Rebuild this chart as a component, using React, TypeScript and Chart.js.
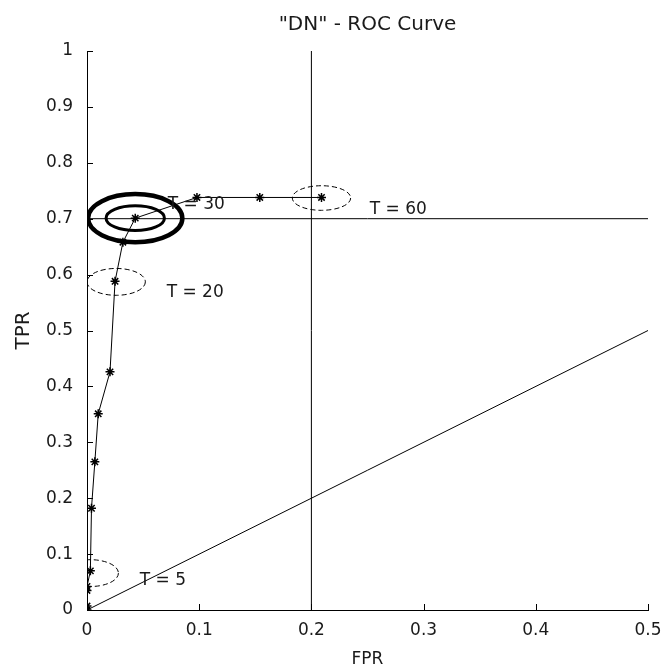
import { useEffect, useRef } from 'react';
import { Chart, registerables } from 'chart.js';

Chart.register(...registerables);

const FONT = 'DejaVu Sans';

const titleText = '"DN" - ROC Curve';
const xAxisTitle = 'FPR';
const yAxisTitle = 'TPR';

const xTickValues = [0, 0.1, 0.2, 0.3, 0.4, 0.5];
const xTickLabels = ['0', '0.1', '0.2', '0.3', '0.4', '0.5'];
const yTickValues = [0, 0.1, 0.2, 0.3, 0.4, 0.5, 0.6, 0.7, 0.8, 0.9, 1];
const yTickLabels = ['0', '0.1', '0.2', '0.3', '0.4', '0.5', '0.6', '0.7', '0.8', '0.9', '1'];

// ROC curve (FPR, TPR) points
const rocFPR = [0, 0, 0, 0, 0.003, 0.004, 0.007, 0.01, 0.0205, 0.025, 0.032, 0.043, 0.098, 0.154, 0.209];
const rocTPR = [0, 0.007, 0.035, 0.042, 0.07, 0.182, 0.265, 0.351, 0.426, 0.588, 0.658, 0.701, 0.738, 0.738, 0.738];

// chance diagonal
const chanceFPR = [0, 0.5];
const chanceTPR = [0, 0.5];

// reference lines
const tprRefFPR = [0, 0.5];
const tprRefTPR = [0.7, 0.7];
const fprRefFPR = [0.2, 0.2];
const fprRefTPR = [0, 1];

// highlighted operating points (centre and radius in data units)
const markFPR = [0.003, 0.026, 0.043, 0.043, 0.209];
const markTPR = [0.066, 0.587, 0.701, 0.701, 0.737];
const markRadFPR = [0.025, 0.026, 0.026, 0.042, 0.026];
const markRadTPR = [0.024, 0.024, 0.022, 0.043, 0.022];

// threshold labels
const labelTexts = ['T = 5', 'T = 20', 'T = 30', 'T = 60'];
const labelFPR = [0.047, 0.071, 0.072, 0.252];
const labelTPR = [0.052, 0.567, 0.725, 0.716];

const markStyles = [
  { width: 1, dash: [5, 3] },
  { width: 1, dash: [5, 3] },
  { width: 3, dash: [] as number[] },
  { width: 4.5, dash: [] as number[] },
  { width: 1, dash: [5, 3] },
];

const pts = (xs: number[], ys: number[]) => xs.map((x, i) => ({ x, y: ys[i] }));

const overlayPlugin = {
  id: 'rocOverlay',
  afterDatasetsDraw(chart: any) {
    const { ctx, chartArea } = chart;
    const xs = chart.scales.x;
    const ys = chart.scales.y;
    ctx.save();
    // inward tick marks
    ctx.strokeStyle = '#000';
    ctx.lineWidth = 1;
    ctx.setLineDash([]);
    xs.ticks.forEach((t: any) => {
      const px = Math.round(xs.getPixelForValue(t.value)) + 0.5;
      ctx.beginPath();
      ctx.moveTo(px, chartArea.bottom);
      ctx.lineTo(px, chartArea.bottom - 6);
      ctx.stroke();
    });
    ys.ticks.forEach((t: any) => {
      const py = Math.round(ys.getPixelForValue(t.value)) + 0.5;
      ctx.beginPath();
      ctx.moveTo(chartArea.left, py);
      ctx.lineTo(chartArea.left + 6, py);
      ctx.stroke();
    });
    // ellipses
    ctx.beginPath();
    ctx.rect(chartArea.left, chartArea.top - 2, chartArea.width + 2, chartArea.height + 2);
    ctx.clip();
    markFPR.forEach((fx, i) => {
      const cx = xs.getPixelForValue(fx);
      const cy = ys.getPixelForValue(markTPR[i]);
      const rx = Math.abs(xs.getPixelForValue(fx + markRadFPR[i]) - cx);
      const ry = Math.abs(ys.getPixelForValue(markTPR[i] + markRadTPR[i]) - cy);
      ctx.beginPath();
      ctx.ellipse(cx, cy, rx, ry, 0, 0, Math.PI * 2);
      ctx.lineWidth = markStyles[i].width;
      ctx.setLineDash(markStyles[i].dash);
      ctx.strokeStyle = '#000';
      ctx.stroke();
    });
    ctx.setLineDash([]);
    // labels
    ctx.fillStyle = '#1a1a1a';
    ctx.font = `17px "${FONT}"`;
    ctx.textAlign = 'left';
    ctx.textBaseline = 'middle';
    labelTexts.forEach((txt, i) => {
      ctx.fillText(txt, xs.getPixelForValue(labelFPR[i]), ys.getPixelForValue(labelTPR[i]));
    });
    ctx.restore();
  },
};

export default function App() {
  const ref = useRef<HTMLCanvasElement | null>(null);

  useEffect(() => {
    if (!ref.current) return;
    Chart.defaults.font.family = FONT;
    const lineDs = (xs: number[], ys: number[]) => ({
      data: pts(xs, ys),
      showLine: true,
      borderColor: '#000',
      borderWidth: 1,
      pointRadius: 0,
      fill: false,
    });
    const chart = new Chart(ref.current, {
      type: 'scatter',
      data: {
        datasets: [
          {
            data: pts(rocFPR, rocTPR),
            showLine: true,
            borderColor: '#000',
            borderWidth: 1,
            pointStyle: 'star',
            pointRadius: 4.5,
            pointBorderWidth: 1.5,
            pointBorderColor: '#000',
            pointBackgroundColor: '#000',
            fill: false,
          } as any,
          lineDs(chanceFPR, chanceTPR),
          lineDs(tprRefFPR, tprRefTPR),
          lineDs(fprRefFPR, fprRefTPR),
        ],
      },
      options: {
        animation: false,
        responsive: false,
        layout: { padding: { left: 4, right: 15, top: 13, bottom: 0 } },
        plugins: {
          legend: { display: false },
          tooltip: { enabled: false },
          title: {
            display: true,
            text: titleText,
            fullSize: false,
            color: '#1a1a1a',
            font: { family: FONT, size: 20, weight: 'normal' },
            padding: { top: 0, bottom: 14 },
          },
        },
        scales: {
          x: {
            type: 'linear',
            min: 0,
            max: 0.5,
            afterBuildTicks: (s: any) => {
              s.ticks = xTickValues.map((v) => ({ value: v }));
            },
            afterFit: (s: any) => {
              s.height = 60;
              s.paddingRight = 0;
              s.paddingLeft = 0;
            },
            ticks: {
              callback: (_v: any, i: number) => xTickLabels[i],
              font: { family: FONT, size: 17 },
              color: '#1a1a1a',
              padding: 10,
              maxRotation: 0,
              autoSkip: false,
            },
            grid: { display: false, drawTicks: false },
            border: { display: true, color: '#000', width: 1 },
            title: {
              display: true,
              text: xAxisTitle,
              color: '#1a1a1a',
              font: { family: FONT, size: 17 },
              padding: { top: 2, bottom: 0 },
            },
          },
          y: {
            type: 'linear',
            min: 0,
            max: 1,
            afterBuildTicks: (s: any) => {
              s.ticks = yTickValues.map((v) => ({ value: v }));
            },
            afterFit: (s: any) => {
              s.width = 83;
              s.paddingTop = 0;
              s.paddingBottom = 0;
            },
            ticks: {
              callback: (_v: any, i: number) => yTickLabels[i],
              font: { family: FONT, size: 17 },
              color: '#1a1a1a',
              padding: 14,
              autoSkip: false,
            },
            grid: { display: false, drawTicks: false },
            border: { display: true, color: '#000', width: 1 },
            title: {
              display: true,
              text: yAxisTitle,
              color: '#1a1a1a',
              font: { family: FONT, size: 20 },
              padding: { top: 8, bottom: 0 },
            },
          },
        },
      } as any,
      plugins: [overlayPlugin],
    });
    return () => chart.destroy();
  }, []);

  return (
    <div style={{ position: 'absolute', left: 0, top: 0, width: 663, height: 670, background: '#fff' }}>
      <canvas ref={ref} width={663} height={670} style={{ display: 'block' }} />
    </div>
  );
}
